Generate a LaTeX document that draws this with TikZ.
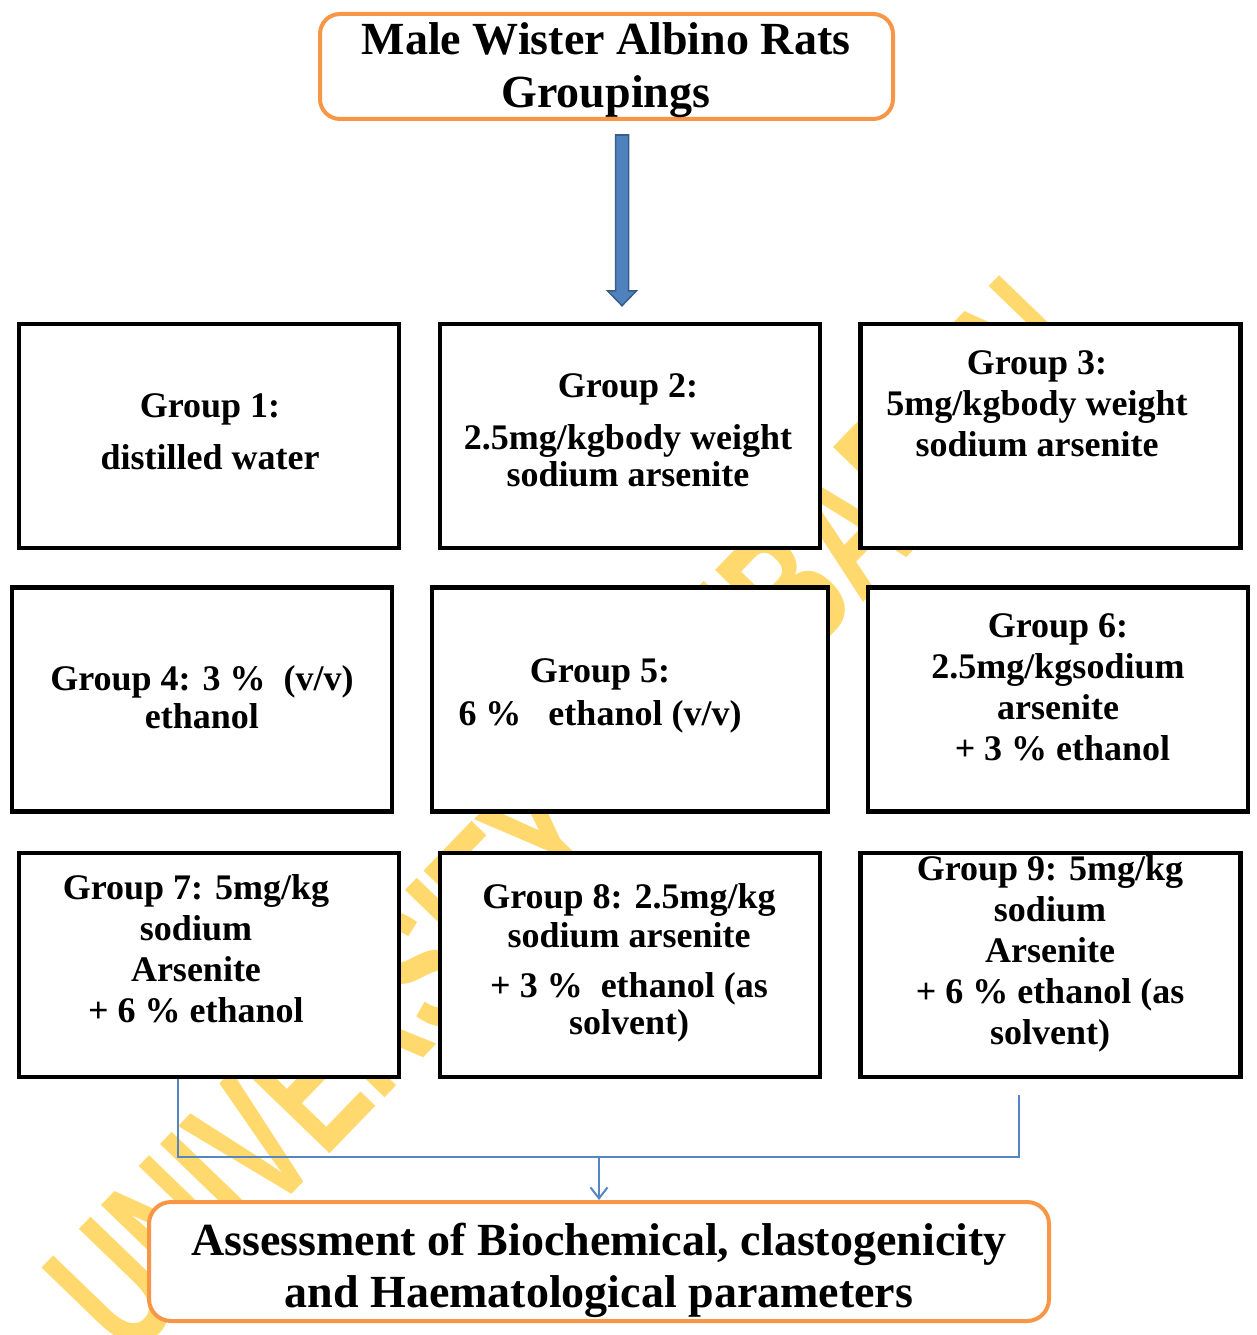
\documentclass[tikz,border=0pt]{standalone}
\usepackage{fontspec}
\setmainfont{Liberation Serif}
\newfontfamily\wmfont{Liberation Sans}
\usepackage{tikz}
\usetikzlibrary{calc,arrows.meta}
\definecolor{boxorange}{RGB}{247,150,70}
\definecolor{arrowblue}{RGB}{79,129,189}
\definecolor{arrowedge}{RGB}{56,93,138}
\definecolor{linkblue}{RGB}{84,134,196}
\definecolor{wmyellow}{RGB}{255,217,110}

\begin{document}
\begin{tikzpicture}[x=1pt,y=-1pt,
		grp/.style={draw=black, line width=4.5pt, fill=white, minimum width=380pt, minimum height=224pt, inner sep=0pt},
		orng/.style={draw=boxorange, line width=4pt, fill=white, rounded corners=20pt, inner sep=0pt},
		txt/.style={align=center, font=\fontsize{36}{41}\selectfont\bfseries, inner sep=0pt},
		bigtxt/.style={align=center, font=\fontsize{46}{53}\selectfont\bfseries, inner sep=0pt},
		link/.style={draw=linkblue, line width=2pt}]
		\useasboundingbox (0,0) rectangle (1257,1335);

		% watermark behind the boxes
		\node[rotate=46, xscale=0.63, text=wmyellow, inner sep=0pt, font=\fontsize{187}{187}\wmfont\bfseries] (wm) at (567,816) {UNIVERSITY OF IBADAN};

		\node[orng, minimum width=573pt, minimum height=105pt] (top) at (606.5,66.5) {};
		\node[bigtxt] (toptxt) at (606,70.5) {Male Wister Albino Rats\\Groupings};

		\node[grp] (g1) at (209,436) {};
		\node[grp] (g2) at (630,436) {};
		\node[grp] (g3) at (1050.5,436) {};
		\node[grp] (g4) at (202,699.5) {};
		\node[grp, minimum width=396pt] (g5) at (630,699.5) {};
		\node[grp] (g6) at (1058,699.5) {};
		\node[grp] (g7) at (209,965) {};
		\node[grp] (g8) at (630,965) {};
		\node[grp] (g9) at (1050.5,965) {};

		\node[txt] (t1) at (210,432) {Group 1:\\[11pt]distilled water};
		\node[txt] (t2) at (628,430) {Group 2:\\[11pt]2.5mg/kgbody weight\\[-4pt]sodium arsenite};
		\node[txt] (t3) at (1037,404) {Group 3:\\5mg/kgbody weight\\sodium arsenite};
		\node[txt] (t4) at (202,697) {Group 4: 3 \%\ \ (v/v)\\[-3pt]ethanol};
		\node[txt] (t5) at (600,695.5) {Group 5:\\[2pt]6 \%\ \ \ ethanol (v/v)};
		\node[txt] (t6) at (1058,687) {Group 6:\\2.5mg/kgsodium\\arsenite\\\ + 3 \% ethanol};
		\node[txt] (t7) at (196,949) {Group 7: 5mg/kg\\sodium\\Arsenite\\+ 6 \% ethanol};
		\node[txt] (t8) at (629,963) {Group 8: 2.5mg/kg\\[-2pt]sodium arsenite\\[9pt]+ 3 \%\ \ ethanol (as\\[-4pt]solvent)};
		\node[txt] (t9) at (1050,953.5) {Group 9: 5mg/kg\\sodium\\Arsenite\\+ 6 \% ethanol (as\\solvent)};

		\node[orng, minimum width=900pt, minimum height=119pt, rounded corners=22pt] (out) at (599,1261.5) {};
		\node[bigtxt, font=\fontsize{46}{52}\selectfont\bfseries] (outtxt) at (599,1270) {Assessment of Biochemical, clastogenicity\\and Haematological parameters};

		% block arrow into the groups
		\coordinate (a0) at ([xshift=15.5pt,yshift=-14pt]top.south);
		\coordinate (a1) at ($(a0 |- g2.north)+(0,-16)$);
		\filldraw[fill=arrowblue, draw=arrowedge, line width=1.5pt] ($(a0)+(-6.5,0)$) -- ($(a1)+(-6.5,-15)$) -- ($(a1)+(-14.5,-15)$) -- (a1) -- ($(a1)+(14.5,-15)$) -- ($(a1)+(6.5,-15)$) -- ($(a0)+(6.5,0)$) -- cycle;

		% collecting lines to the assessment box
		\coordinate (c7) at ([xshift=-31pt]g7.south);
		\coordinate (c9) at ([xshift=-31.5pt,yshift=-16pt]g9.south);
		\coordinate (b7) at ([yshift=-78pt]c7);
		\draw[link] (c7) -- (b7) -- (b7 -| c9) -- (c9);
		\draw[link, -{Straight Barb[length=11pt, width=17pt]}] (b7 -| out.north) -- (out.north);
	\end{tikzpicture}
\end{document}
